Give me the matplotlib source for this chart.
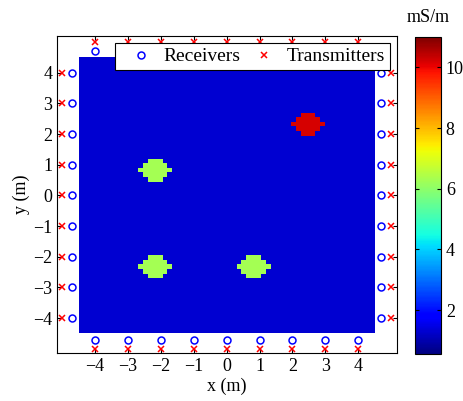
import matplotlib.pyplot as plt
import numpy as np

plt.rcParams['font.family'] = ['Liberation Serif', 'DejaVu Serif']
plt.rcParams['font.size'] = 13

# conductivity model (mS/m)
background = 1.3
anomaly_x = [-2.22, -2.24, 0.87, 2.42]
anomaly_y = [0.79, -2.25, -2.25, 2.37]
anomaly_val = [6.3, 6.3, 6.3, 10.2]
anomaly_a = [0.5, 0.5, 0.5, 0.5]      # half width in x
anomaly_b = [0.35, 0.35, 0.35, 0.35]  # half height in y

# sensor positions
pos = [-4, -3, -2, -1, 0, 1, 2, 3, 4]
rx_off = 4.7
tx_off = 5.0

cbar_ticks = [2, 4, 6, 8, 10]

# build gridded model, 0.15 m cells
edges = np.linspace(-4.5, 4.5, 61)
cent = (edges[:-1] + edges[1:]) / 2
X, Y = np.meshgrid(cent, cent)
model = np.full(X.shape, background)
for cx, cy, v, a, b in zip(anomaly_x, anomaly_y, anomaly_val, anomaly_a, anomaly_b):
    # snap centre onto a cell so the blob is symmetric
    cx = cent[np.argmin(abs(cent - cx))]
    cy = cent[np.argmin(abs(cent - cy))]
    r = np.abs((X - cx) / a) ** 1.5 + np.abs((Y - cy) / b) ** 1.5
    model[r <= 1.0001] = v

fig = plt.figure(figsize=(4.64, 4.01), dpi=100)
ax = fig.add_axes([57 / 464, 48 / 401, 340 / 464, 317 / 401])

mesh = ax.pcolormesh(edges, edges, model, cmap='jet', vmin=0.55, vmax=11)

p = np.array(pos, dtype=float)
ones = np.ones_like(p)
rx_x = np.concatenate([p, p, -rx_off * ones, rx_off * ones])
rx_y = np.concatenate([rx_off * ones, -rx_off * ones, p, p])
tx_x = np.concatenate([p, p, -tx_off * ones, tx_off * ones])
tx_y = np.concatenate([tx_off * ones, -tx_off * ones, p, p])

ax.plot(rx_x, rx_y, 'o', ls='none', mfc='none', mec='blue', ms=5, mew=1.1,
        label='Receivers', clip_on=False)
ax.plot(tx_x, tx_y, 'x', ls='none', color='red', ms=4.5, mew=1.1,
        label='Transmitters', clip_on=False)

ax.set_xlim(-5.16, 5.18)
ax.set_ylim(-5.14, 5.2)
ax.set_xticks(pos)
ax.set_yticks(pos)
ax.tick_params(direction='in', top=True, right=True, length=3)
ax.set_xlabel('x (m)', labelpad=2)
ax.set_ylabel('y (m)', labelpad=2)

leg = ax.legend(ncol=2, loc='upper right', bbox_to_anchor=(0.979, 0.978),
                borderaxespad=0, fancybox=False, edgecolor='black',
                framealpha=1, handlelength=2.1, handletextpad=0.1,
                columnspacing=0.2, borderpad=0.25, fontsize=14)
leg.get_frame().set_linewidth(0.8)
leg.set_zorder(5)

cax = fig.add_axes([415 / 464, 47 / 401, 26 / 464, 317 / 401])
cb = fig.colorbar(mesh, cax=cax, ticks=cbar_ticks)
cax.tick_params(direction='in', left=True, right=True, length=3)
fig.text(428 / 464, 1 - 17 / 401, 'mS/m', ha='center', va='center', fontsize=13)

fig.savefig('out.png', dpi=100)
